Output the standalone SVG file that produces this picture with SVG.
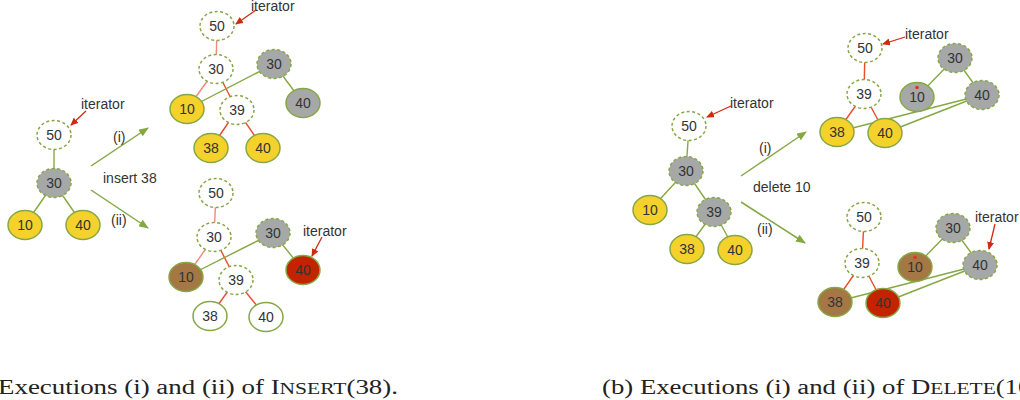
<svg xmlns="http://www.w3.org/2000/svg" width="1020" height="400" viewBox="0 0 1020 400">
<style>
.w{fill:#fff;stroke:#86a844;stroke-width:1.5;stroke-dasharray:3 2.5}
.ws{fill:#fff;stroke:#86a844;stroke-width:1.5}
.g{fill:#a6a8a7;stroke:#86a844;stroke-width:1.5;stroke-dasharray:3 2.5}
.gs{fill:#a6a8a7;stroke:#86a844;stroke-width:1.5}
.y{fill:#f5d12b;stroke:#86a844;stroke-width:1.5}
.b{fill:#a57745;stroke:#86a844;stroke-width:1.5}
.r{fill:#c42300;stroke:#86a844;stroke-width:1.5}
.t{font-family:"Liberation Sans",Arial,sans-serif;font-size:14px;fill:#333;text-anchor:middle}
.lbl{font-family:"Liberation Sans",Arial,sans-serif;font-size:14px;fill:#333}
.lg{stroke:#86a844;stroke-width:1.4;fill:none}
.lr{stroke:#ee4a2c;stroke-width:1.4;fill:none}
.lr2{stroke:#f08a7c;stroke-width:1.4;fill:none}
.it{stroke:#d02a10;stroke-width:1.3;fill:none;marker-end:url(#ra)}
.ar{stroke:#86a844;stroke-width:1.5;fill:none;marker-end:url(#ga)}
.cap{font-family:"Liberation Serif","Times New Roman",serif;font-size:20px;fill:#222}
.dot{fill:#e8301a}
</style>
<defs>
<marker id="ga" markerWidth="10" markerHeight="8" refX="9" refY="4" orient="auto" markerUnits="userSpaceOnUse"><path d="M0,0 L10,4 L0,8 Z" fill="#86a844"/></marker>
<marker id="ra" markerWidth="8" markerHeight="7" refX="7" refY="3.5" orient="auto" markerUnits="userSpaceOnUse"><path d="M0,0 L8,3.5 L0,7 Z" fill="#d02a10"/></marker>
</defs>

<g id="connectors">
<!-- (a) left -->
<line class="lg" x1="54" y1="135" x2="54" y2="183"/>
<line class="lg" x1="54" y1="183" x2="25" y2="225"/>
<line class="lg" x1="54" y1="183" x2="83" y2="225"/>
<!-- (a)(i) -->
<line class="lr2" x1="217" y1="26" x2="216" y2="69"/>
<line class="lr2" x1="216" y1="69" x2="187" y2="109"/>
<line class="lr" x1="216" y1="69" x2="237" y2="110"/>
<line class="lr" x1="237" y1="110" x2="211" y2="148"/>
<line class="lr" x1="237" y1="110" x2="263" y2="148"/>
<line class="lg" x1="274" y1="64" x2="187" y2="109"/>
<line class="lg" x1="274" y1="64" x2="303" y2="103"/>
<!-- (a)(ii) -->
<line class="lr2" x1="216" y1="193" x2="214" y2="237"/>
<line class="lr2" x1="214" y1="237" x2="186" y2="277"/>
<line class="lr" x1="214" y1="237" x2="236" y2="280"/>
<line class="lr" x1="236" y1="280" x2="210" y2="316"/>
<line class="lr" x1="236" y1="280" x2="266" y2="317"/>
<line class="lg" x1="273" y1="233" x2="186" y2="277"/>
<line class="lg" x1="273" y1="233" x2="303" y2="270"/>
<!-- (b) left -->
<line class="lg" x1="689" y1="126" x2="686" y2="171"/>
<line class="lg" x1="686" y1="171" x2="650" y2="210"/>
<line class="lg" x1="686" y1="171" x2="714" y2="212"/>
<line class="lg" x1="714" y1="212" x2="687" y2="249"/>
<line class="lg" x1="714" y1="212" x2="735" y2="250"/>
<!-- (b)(i) -->
<line class="lr" x1="865" y1="48" x2="864" y2="94"/>
<line class="lr" x1="864" y1="94" x2="837" y2="132"/>
<line class="lr" x1="864" y1="94" x2="885" y2="133"/>
<line class="lg" x1="955" y1="58" x2="917" y2="97"/>
<line class="lg" x1="955" y1="58" x2="982" y2="95"/>
<line class="lg" x1="982" y1="95" x2="837" y2="132"/>
<line class="lg" x1="982" y1="95" x2="885" y2="133"/>
<!-- (b)(ii) -->
<line class="lr" x1="864" y1="217" x2="862" y2="263"/>
<line class="lr" x1="862" y1="263" x2="835" y2="302"/>
<line class="lr" x1="862" y1="263" x2="883" y2="303"/>
<line class="lg" x1="953" y1="228" x2="915" y2="267"/>
<line class="lg" x1="953" y1="228" x2="980" y2="265"/>
<line class="lg" x1="980" y1="265" x2="835" y2="302"/>
<line class="lg" x1="980" y1="265" x2="883" y2="303"/>
<!-- transition arrows -->
<line class="ar" x1="91" y1="166" x2="148" y2="128"/>
<line class="ar" x1="91" y1="190" x2="148" y2="228"/>
<line class="ar" x1="741" y1="176" x2="806" y2="132"/>
<line class="ar" x1="741" y1="202" x2="805" y2="243"/>
<!-- iterator pointers -->
<line class="it" x1="86" y1="111" x2="71" y2="125"/>
<line class="it" x1="256" y1="10" x2="236" y2="24"/>
<line class="it" x1="322" y1="237" x2="312" y2="256"/>
<line class="it" x1="731" y1="106" x2="707" y2="117"/>
<line class="it" x1="905" y1="37" x2="883" y2="44"/>
<line class="it" x1="995" y1="224" x2="989" y2="249"/>
</g>

<!-- (a) left tree -->
<g id="aL50"><ellipse class="w" cx="54" cy="135" rx="17" ry="14.5"/><text class="t" x="54" y="140">50</text></g>
<g id="aL30"><ellipse class="g" cx="54" cy="183" rx="17" ry="14.5"/><text class="t" x="54" y="188">30</text></g>
<g id="aL10"><ellipse class="y" cx="25" cy="225" rx="17" ry="14.5"/><text class="t" x="25" y="230">10</text></g>
<g id="aL40"><ellipse class="y" cx="83" cy="225" rx="17" ry="14.5"/><text class="t" x="83" y="230">40</text></g>

<!-- (a)(i) -->
<g id="aI50"><ellipse class="w" cx="217" cy="26" rx="17" ry="14.5"/><text class="t" x="217" y="31">50</text></g>
<g id="aI30"><ellipse class="w" cx="216" cy="69" rx="17" ry="14.5"/><text class="t" x="216" y="74">30</text></g>
<g id="aI30g"><ellipse class="g" cx="274" cy="64" rx="17" ry="14.5"/><text class="t" x="274" y="69">30</text></g>
<g id="aI40g"><ellipse class="gs" cx="303" cy="103" rx="17" ry="14.5"/><text class="t" x="303" y="108">40</text></g>
<g id="aI10"><ellipse class="y" cx="187" cy="109" rx="17" ry="14.5"/><text class="t" x="187" y="114">10</text></g>
<g id="aI39"><ellipse class="w" cx="237" cy="110" rx="17" ry="14.5"/><text class="t" x="237" y="115">39</text></g>
<g id="aI38"><ellipse class="y" cx="211" cy="148" rx="17" ry="14.5"/><text class="t" x="211" y="153">38</text></g>
<g id="aI40"><ellipse class="y" cx="263" cy="148" rx="17" ry="14.5"/><text class="t" x="263" y="153">40</text></g>

<!-- (a)(ii) -->
<g id="aII50"><ellipse class="w" cx="216" cy="193" rx="17" ry="14.5"/><text class="t" x="216" y="198">50</text></g>
<g id="aII30"><ellipse class="w" cx="214" cy="237" rx="17" ry="14.5"/><text class="t" x="214" y="242">30</text></g>
<g id="aII30g"><ellipse class="g" cx="273" cy="233" rx="17" ry="14.5"/><text class="t" x="273" y="238">30</text></g>
<g id="aII10"><ellipse class="b" cx="186" cy="277" rx="17" ry="14.5"/><text class="t" x="186" y="282">10</text></g>
<g id="aII39"><ellipse class="w" cx="236" cy="280" rx="17" ry="14.5"/><text class="t" x="236" y="285">39</text></g>
<g id="aII40r"><ellipse class="r" cx="303" cy="270" rx="17" ry="14.5"/><text class="t" x="303" y="275">40</text></g>
<g id="aII38"><ellipse class="ws" cx="210" cy="316" rx="17" ry="14.5"/><text class="t" x="210" y="321">38</text></g>
<g id="aII40"><ellipse class="ws" cx="266" cy="317" rx="17" ry="14.5"/><text class="t" x="266" y="322">40</text></g>

<!-- (b) left tree -->
<g id="bL50"><ellipse class="w" cx="689" cy="126" rx="17" ry="14.5"/><text class="t" x="689" y="131">50</text></g>
<g id="bL30"><ellipse class="g" cx="686" cy="171" rx="17" ry="14.5"/><text class="t" x="686" y="176">30</text></g>
<g id="bL10"><ellipse class="y" cx="650" cy="210" rx="17" ry="14.5"/><text class="t" x="650" y="215">10</text></g>
<g id="bL39"><ellipse class="g" cx="714" cy="212" rx="17" ry="14.5"/><text class="t" x="714" y="217">39</text></g>
<g id="bL38"><ellipse class="y" cx="687" cy="249" rx="17" ry="14.5"/><text class="t" x="687" y="254">38</text></g>
<g id="bL40"><ellipse class="y" cx="735" cy="250" rx="17" ry="14.5"/><text class="t" x="735" y="255">40</text></g>

<!-- (b)(i) -->
<g id="bI50"><ellipse class="w" cx="865" cy="48" rx="17" ry="14.5"/><text class="t" x="865" y="53">50</text></g>
<g id="bI39"><ellipse class="w" cx="864" cy="94" rx="17" ry="14.5"/><text class="t" x="864" y="99">39</text></g>
<g id="bI38"><ellipse class="y" cx="837" cy="132" rx="17" ry="14.5"/><text class="t" x="837" y="137">38</text></g>
<g id="bI40"><ellipse class="y" cx="885" cy="133" rx="17" ry="14.5"/><text class="t" x="885" y="138">40</text></g>
<g id="bI30"><ellipse class="g" cx="955" cy="58" rx="17" ry="14.5"/><text class="t" x="955" y="63">30</text></g>
<g id="bI10"><ellipse class="gs" cx="917" cy="97" rx="17" ry="14.5"/><text class="t" x="917" y="102">10</text><circle class="dot" cx="917" cy="87.5" r="1.8"/></g>
<g id="bI40g"><ellipse class="g" cx="982" cy="95" rx="17" ry="14.5"/><text class="t" x="982" y="100">40</text></g>

<!-- (b)(ii) -->
<g id="bII50"><ellipse class="w" cx="864" cy="217" rx="17" ry="14.5"/><text class="t" x="864" y="222">50</text></g>
<g id="bII39"><ellipse class="w" cx="862" cy="263" rx="17" ry="14.5"/><text class="t" x="862" y="268">39</text></g>
<g id="bII38"><ellipse class="b" cx="835" cy="302" rx="17" ry="14.5"/><text class="t" x="835" y="307">38</text></g>
<g id="bII40r"><ellipse class="r" cx="883" cy="303" rx="17" ry="14.5"/><text class="t" x="883" y="308">40</text></g>
<g id="bII30"><ellipse class="g" cx="953" cy="228" rx="17" ry="14.5"/><text class="t" x="953" y="233">30</text></g>
<g id="bII10"><ellipse class="b" cx="915" cy="267" rx="17" ry="14.5"/><text class="t" x="915" y="272">10</text><circle class="dot" cx="915" cy="257.5" r="1.8"/></g>
<g id="bII40g"><ellipse class="g" cx="980" cy="265" rx="17" ry="14.5"/><text class="t" x="980" y="270">40</text></g>

<g id="labels">
<text class="lbl" x="81" y="109">iterator</text>
<text class="lbl" x="251" y="11">iterator</text>
<text class="lbl" x="303" y="236">iterator</text>
<text class="lbl" x="730" y="108">iterator</text>
<text class="lbl" x="905" y="39">iterator</text>
<text class="lbl" x="975" y="222">iterator</text>
<text class="lbl" x="113" y="142">(i)</text>
<text class="lbl" x="103" y="183">insert 38</text>
<text class="lbl" x="111" y="225">(ii)</text>
<text class="lbl" x="759" y="153">(i)</text>
<text class="lbl" x="753" y="192">delete 10</text>
<text class="lbl" x="757" y="234">(ii)</text>
</g>

<g id="captions">
<text class="cap" x="-2" y="394" textLength="400" lengthAdjust="spacingAndGlyphs">Executions (i) and (ii) of I<tspan font-size="16">NSERT</tspan>(38).</text>
<text class="cap" x="602" y="394" textLength="445" lengthAdjust="spacingAndGlyphs">(b) Executions (i) and (ii) of D<tspan font-size="16">ELETE</tspan>(10).</text>
</g>
</svg>
